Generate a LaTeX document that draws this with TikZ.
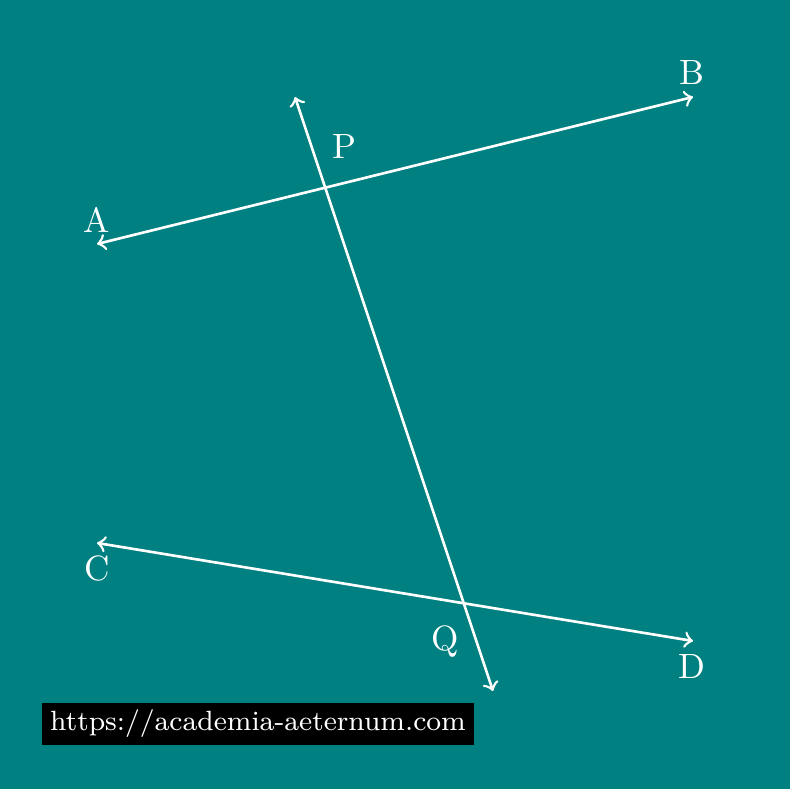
\documentclass[tikz,border=0pt]{standalone}
\usepackage{amsmath, amssymb}
\usepackage{tikz}

\begin{document}
\begin{tikzpicture}[line width=0.75pt, white]
  % Fondo
  \fill[teal] (0,0) rectangle (7.90,7.89);
  \useasboundingbox (0,0) rectangle (7.90,7.89);

  % Extremos de las rectas
  \coordinate (A) at (0.97,5.45);
  \coordinate (B) at (6.93,6.92);
  \coordinate (C) at (0.97,2.46);
  \coordinate (D) at (6.93,1.48);
  \coordinate (T1) at (2.95,6.92);
  \coordinate (T2) at (4.93,0.98);

  % Puntos de corte P y Q
  \coordinate (P) at (intersection of A--B and T1--T2);
  \coordinate (Q) at (intersection of C--D and T1--T2);

  % Rectas AB, CD y la transversal
  \draw[<->] (A) -- (B);
  \draw[<->] (C) -- (D);
  \draw[<->] (T1) -- (T2);

  % Etiquetas
  \node (labA) at (0.97,5.69) {A};
  \node (labB) at (6.92,7.16) {B};
  \node (labC) at (0.97,2.20) {C};
  \node (labD) at (6.92,1.22) {D};
  \node (labP) at (3.44,6.42) {P};
  \node (labQ) at (4.45,1.47) {Q};

  % Marca de agua
  \node[fill=black, inner xsep=2.2pt, inner ysep=2pt, font=\fontsize{7.92}{9}\selectfont] (web) at (2.58,0.65) {https://academia-aeternum.com};
\end{tikzpicture}
\end{document}
